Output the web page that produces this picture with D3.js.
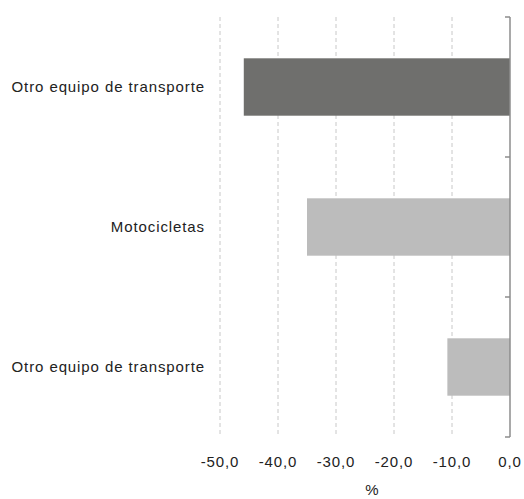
<!DOCTYPE html>
<html><head><meta charset="utf-8">
<script src="https://cdn.jsdelivr.net/npm/d3@7"></script>
<style>body{margin:0;background:#fff;}svg{display:block;}</style>
</head><body>
<svg id="chart" width="524" height="499"></svg>
<script>
const categories = ["Otro equipo de transporte", "Motocicletas", "Otro equipo de transporte"];
const values = [-45.9, -35.0, -10.8];
const barColors = ["#6f6f6d", "#bcbcbc", "#bcbcbc"];
const tickValues = [-50, -40, -30, -20, -10, 0];
const axisTitle = "%";

const svg = d3.select("#chart");
const font = "'Liberation Sans', Arial, sans-serif";
const x = d3.scaleLinear().domain([-50, 0]).range([220, 510]);
const y = d3.scaleBand().domain(d3.range(categories.length)).range([17, 437]).paddingInner(0.59).paddingOuter(0.295);
const yOuter = d3.scaleBand().domain(d3.range(categories.length)).range([17, 437]);

// gridlines
svg.append("g").selectAll("line").data(tickValues.filter(v => v !== 0)).join("line")
  .attr("x1", d => x(d)).attr("x2", d => x(d))
  .attr("y1", 17).attr("y2", 437)
  .attr("stroke", "#c8c8c8").attr("stroke-width", 1).attr("stroke-dasharray", "4,3");

// bars
svg.append("g").selectAll("rect").data(values).join("rect")
  .attr("x", d => x(d)).attr("width", d => x(0) - x(d))
  .attr("y", (d, i) => y(i)).attr("height", y.bandwidth())
  .attr("fill", (d, i) => barColors[i]);

// vertical axis with ticks at band edges
const edges = d3.range(categories.length + 1).map(i => 17 + i * yOuter.step());
svg.append("line").attr("x1", x(0)).attr("x2", x(0)).attr("y1", 17).attr("y2", 437)
  .attr("stroke", "#8c8c8c").attr("stroke-width", 1.5);
svg.append("g").selectAll("line").data(edges).join("line")
  .attr("x1", x(0) - 5).attr("x2", x(0)).attr("y1", d => d).attr("y2", d => d)
  .attr("stroke", "#8c8c8c").attr("stroke-width", 1.5);

// category labels
svg.append("g").selectAll("text").data(categories).join("text")
  .attr("x", 205).attr("y", (d, i) => yOuter(i) + yOuter.bandwidth() / 2)
  .attr("dy", "0.35em").attr("text-anchor", "end")
  .attr("font-family", font).attr("font-size", 15).attr("letter-spacing", "0.9px").attr("fill", "#222")
  .text(d => d);

// x tick labels
svg.append("g").selectAll("text").data(tickValues).join("text")
  .attr("x", d => x(d)).attr("y", 467).attr("text-anchor", "middle")
  .attr("font-family", font).attr("font-size", 15).attr("letter-spacing", "0.9px").attr("fill", "#222")
  .text(d => d3.format(".1f")(d).replace("−", "-").replace(".", ","));

svg.append("text").attr("x", 372).attr("y", 495).attr("text-anchor", "middle")
  .attr("font-family", font).attr("font-size", 15).attr("fill", "#222").text(axisTitle);
</script>
</body></html>
